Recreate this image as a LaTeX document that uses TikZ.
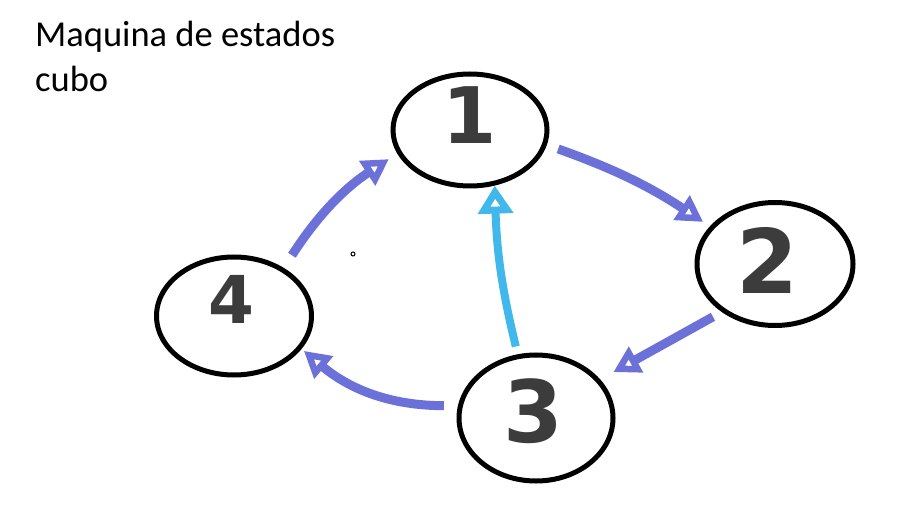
\documentclass[tikz,border=0pt]{standalone}
\usepackage{fontspec}
\setmainfont{Carlito}
\newfontfamily\digitfont{DejaVu Sans}
\usetikzlibrary{shapes.geometric,arrows.meta}
\definecolor{pen}{HTML}{6B71D9}
\definecolor{penlight}{HTML}{40B8EC}
\definecolor{digitgrey}{HTML}{3C3C3C}
\begin{document}
\begin{tikzpicture}[x=1pt,y=-1pt,
  state/.style={draw=black, line width=5pt, ellipse, inner sep=0pt},
  digitlbl/.style={text=digitgrey, inner sep=0pt},
  edge/.style={draw=pen, line width=9pt, -{Triangle[open,length=26pt,width=28pt,line width=7pt]}},
  edgelight/.style={draw=penlight, line width=8pt, -{Triangle[open,length=28pt,width=34pt,line width=7pt]}},
  titletext/.style={font=\fontsize{36.5}{42}\selectfont, anchor=base west, inner sep=0pt}]

\fill[white] (0,0) rectangle (905,521);
\useasboundingbox (0,0) rectangle (905,521);

\node[titletext] (t1) at (35,47) {Maquina de estados};
\node[titletext] (t2) at (35,92) {cubo};

\node[state, minimum width=154pt, minimum height=112pt] (s1) at (470,130) {};
\node[state, minimum width=156pt, minimum height=123pt] (s2) at (775,264) {};
\node[state, minimum width=154pt, minimum height=126pt] (s3) at (536,418) {};
\node[state, minimum width=155pt, minimum height=118pt] (s4) at (234,316) {};

\node[digitlbl, font=\digitfont\bfseries\fontsize{78}{78}\selectfont] (n1) at (470,115) {1};
\node[digitlbl, font=\digitfont\bfseries\fontsize{89}{89}\selectfont] (n2) at (767,260) {2};
\node[digitlbl, font=\digitfont\bfseries\fontsize{86}{86}\selectfont] (n3) at (533,411) {3};
\node[digitlbl, font=\digitfont\bfseries\fontsize{66}{66}\selectfont] (n4) at (231,299) {4};

\draw[edge, shorten <=12pt, shorten >=8pt] (s1.-11) to[bend left=7] (s2.150);
\draw[edge, shorten <=10pt, shorten >=15pt] (s2.222) -- (s3.31);
\draw[edge, shorten <=14pt, shorten >=3pt] (s3.171) to[bend left=20] (s4.-26);
\draw[edge, shorten <=15pt, shorten >=10pt] (s4.44) to[bend left=12] (s1.198);
\draw[edgelight, shorten <=8pt] (s3.106) to[bend left=6] (s1.-66);

\draw[line width=1pt] (353,254) circle[radius=2pt];
\end{tikzpicture}
\end{document}
